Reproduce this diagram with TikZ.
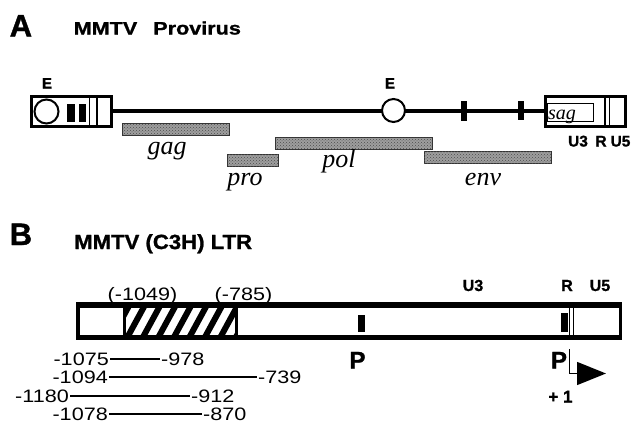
\documentclass[tikz,border=0pt]{standalone}
\usepackage{fontspec}
\setmainfont{Liberation Sans}[BoldFeatures={FakeBold=1.2}]
\newfontfamily\ttlA{Liberation Sans}[FakeStretch=1.2,BoldFeatures={FakeBold=1.2}]
\newfontfamily\ttlB{Liberation Sans}[FakeStretch=1.08,BoldFeatures={FakeBold=1.2}]
\newfontfamily\numf{Liberation Sans}[FakeStretch=1.2]
\newfontfamily\genef{Liberation Serif}
\usetikzlibrary{arrows.meta,patterns}
\begin{document}
\begin{tikzpicture}[x=1pt,y=-1pt,line join=miter,
  ltrbox/.style={draw,line width=3pt,fill=white,inner sep=0pt},
  thinbox/.style={draw,line width=1pt,inner sep=0pt},
  genebar/.style={draw=black!80,fill=black!38,line width=0.8pt,inner sep=0pt,minimum height=12.5pt,
    postaction={pattern=crosshatch dots,pattern color=black!70}},
  genelbl/.style={font=\genef\itshape\fontsize{26}{26}\selectfont,inner sep=0pt,anchor=base},
  blk/.style={fill=black,draw=none,inner sep=0pt},
  ecirc/.style={circle,draw,line width=2pt,fill=white,minimum size=23pt,inner sep=0pt},
  bl/.style={font=\bfseries\fontsize{#1}{#1}\selectfont,inner sep=0pt,anchor=base},
  num/.style={font=\numf\fontsize{18}{18}\selectfont,inner sep=1pt},
  dline/.style={line width=2pt},
  hatchline/.style={line width=6pt}]
\useasboundingbox (0,0) rectangle (633,423);
\fill[white] (0,0) rectangle (633,423);

% ---------- Panel A ----------
\node[bl=31,anchor=base west] (labA) at (9.5,36.5) {A};
\node[font=\ttlA\bfseries\fontsize{18}{18}\selectfont,inner sep=0pt,anchor=base west] (ttlA) at (73.5,34.5) {MMTV\hspace{16pt}Provirus};

% LTR boxes
\node[ltrbox,minimum width=80pt,minimum height=30pt] (lbox) at (71.5,111) {};
\node[ltrbox,minimum width=80pt,minimum height=30pt] (rbox) at (585.5,111.5) {};
% main line
\draw[line width=3.5pt] (lbox.east) -- (rbox.west |- lbox.east);

% left LTR inner parts
\draw[line width=1.8pt] (89.5,96.5) -- (89.5,125.5);
\draw[line width=1.8pt] (97,96.5) -- (97,125.5);
\node[ecirc,minimum size=24pt] (lE) at (46.5,111.5) {};
\node[blk,minimum width=8pt,minimum height=18pt] (lb1) at (71,113) {};
\node[blk,minimum width=7pt,minimum height=18pt] (lb2) at (82.5,113) {};
\node[bl=15] (lElbl) at (47,88.5) {E};

% right LTR inner parts
\node[thinbox,minimum width=46pt,minimum height=18pt,anchor=west] (sagbox) at (546.5,112) {};
\node[font=\genef\itshape\fontsize{20}{20}\selectfont,inner sep=0pt,anchor=base west] (sag) at (548,119) {sag};
\draw[line width=1.5pt] (605,97.5) -- (605,126);
\draw[line width=1.5pt] (609.5,97.5) -- (609.5,126);
\node[bl=15.5] (u3a) at (578,146.5) {U3};
\node[bl=15.5] (ra) at (601,146.5) {R};
\node[bl=15.5] (u5a) at (620.5,146.5) {U5};

% internal enhancer and bars
\node[ecirc] (mE) at (393.5,110.5) {};
\node[bl=15] (mElbl) at (390,88.5) {E};
\node[blk,minimum width=6pt,minimum height=20pt] (mb1) at (464,111) {};
\node[blk,minimum width=6pt,minimum height=19pt] (mb2) at (521,110.5) {};

% genes
\node[genebar,minimum width=107pt] (gag) at (175.5,129.5) {};
\node[genebar,minimum width=51pt] (pro) at (252.5,160.5) {};
\node[genebar,minimum width=157pt] (pol) at (353.5,143.5) {};
\node[genebar,minimum width=127pt] (env) at (487.5,157.5) {};
\node[genelbl] (gagl) at (167,154) {gag};
\node[genelbl] (prol) at (245,185) {pro};
\node[genelbl] (poll) at (339,167) {pol};
\node[genelbl] (envl) at (483,185) {env};

% ---------- Panel B ----------
\node[bl=31,anchor=base west] (labB) at (9.5,245) {B};
\node[font=\ttlB\bfseries\fontsize{20.5}{20.5}\selectfont,inner sep=0pt,anchor=base west] (ttlB) at (74,249) {MMTV (C3H) LTR};

\node[draw,line width=3.5pt,fill=white,inner sep=0pt,minimum width=542.5pt,minimum height=30.5pt] (ltrB) at (349,321) {};
\node[inner sep=0pt,minimum width=111pt,minimum height=30.5pt] (enh) at (180.5,321) {};
\begin{scope}
  \clip (enh.south west) rectangle (enh.north east);
  \foreach \k in {-2,...,7} {
    \draw[hatchline] ({127+15.5*\k},338) -- ++(18.5,-34);
  }
\end{scope}
\draw[line width=3pt] (enh.north west) -- (enh.south west);
\draw[line width=3pt] (enh.north east) -- (enh.south east);
\draw[line width=3.5pt] (ltrB.north west) -- (ltrB.north east);
\draw[line width=3.5pt] (ltrB.south west) -- (ltrB.south east);

\node[num,anchor=base] (p1049) at (142.5,300) {(-1049)};
\node[num,anchor=base] (p785) at (243.5,300) {(-785)};

% R boundary and promoter elements
\draw[line width=1.2pt] (569.5,306) -- (569.5,336);
\draw[line width=1.2pt] (573.5,306) -- (573.5,336);
\node[blk,minimum width=7pt,minimum height=17pt] (pb1) at (361.5,323.5) {};
\node[blk,minimum width=7pt,minimum height=19pt] (pb2) at (564.5,322.5) {};

\node[bl=16] (u3b) at (473,291) {U3};
\node[bl=16] (rb) at (567,291) {R};
\node[bl=16] (u5b) at (600,291) {U5};
\node[bl=24] (P1) at (357.5,368.5) {P};
\node[bl=24] (P2) at (559,368.5) {P};
\node[bl=17] (plus1) at (560.5,402.5) {+ 1};

\coordinate (tss) at (569.5,349);
\coordinate (tip) at (606,373.5);
\draw[line width=1.5pt,-{Triangle[length=29pt,width=23pt]}] (tss) |- (tip);

% deletion mutants
\node[num,anchor=base east] (a1) at (110,365) {-1075};
\node[num,anchor=base west] (b1) at (160,365) {-978};
\node[num,anchor=base east] (a2) at (109,383) {-1094};
\node[num,anchor=base west] (b2) at (257,383) {-739};
\node[num,anchor=base east] (a3) at (70,402) {-1180};
\node[num,anchor=base west] (b3) at (190,402) {-912};
\node[num,anchor=base east] (a4) at (109,420) {-1078};
\node[num,anchor=base west] (b4) at (202,420) {-870};
\draw[dline] (a1.east) -- (a1.east -| b1.west);
\draw[dline] (a2.east) -- (a2.east -| b2.west);
\draw[dline] (a3.east) -- (a3.east -| b3.west);
\draw[dline] (a4.east) -- (a4.east -| b4.west);
\end{tikzpicture}
\end{document}
